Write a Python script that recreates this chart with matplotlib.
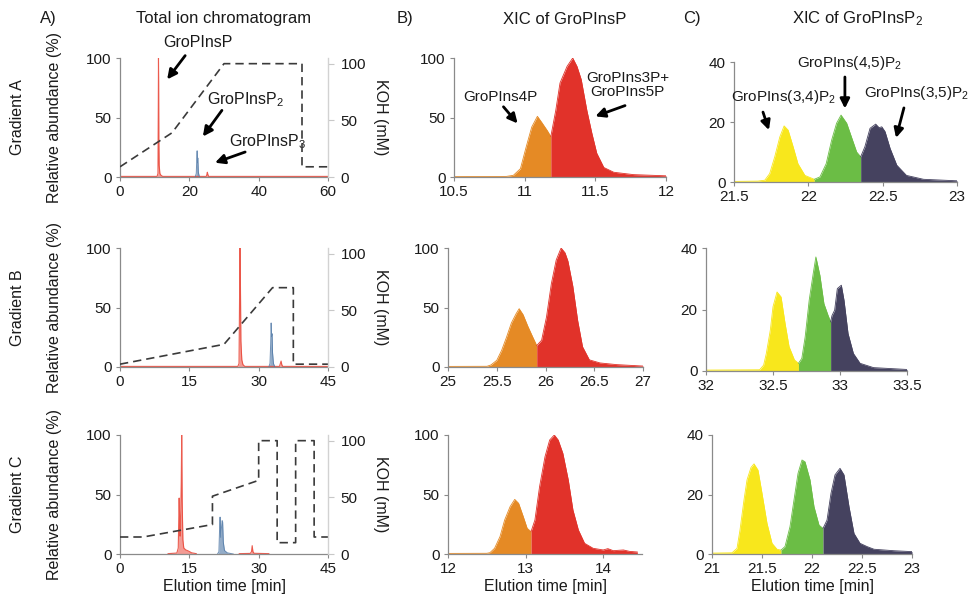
import matplotlib

matplotlib.use("Agg")
import matplotlib.pyplot as plt
import numpy as np
from matplotlib.ticker import FormatStrFormatter

plt.rcParams["font.family"] = ["Liberation Sans", "DejaVu Sans"]
plt.rcParams["mathtext.fontset"] = "custom"
plt.rcParams["mathtext.rm"] = "Liberation Sans"
plt.rcParams["mathtext.it"] = "Liberation Sans:italic"
plt.rcParams["mathtext.bf"] = "Liberation Sans:bold"

# ---- total ion chromatograms (time in min, relative abundance in %) ----
TIC_A_RED_T = [0, 10.7, 10.95, 11.05, 11.1, 11.15, 11.2, 11.3, 11.5, 11.8, 12.3,
               24.9, 25.05, 25.2, 25.35, 25.55, 60]
TIC_A_RED_I = [0.5, 0.5, 3, 60, 100, 80, 32, 10, 3, 1.5, 0.5,
               0.5, 2, 4, 2, 0.5, 0.5]
TIC_A_BLUE_T = [21.7, 22.0, 22.15, 22.25, 22.35, 22.45, 22.6, 22.9]
TIC_A_BLUE_I = [0, 3, 15, 22, 12, 16, 4, 0]

TIC_B_RED_T = [0, 25.5, 25.75, 25.85, 25.95, 26.05, 26.15, 26.35, 26.6, 27.0,
               34.5, 34.7, 34.85, 35.0, 35.2, 45]
TIC_B_RED_I = [0.5, 0.5, 3, 50, 100, 72, 22, 6, 2, 0.5,
               0.5, 3, 5, 2, 0.5, 0.5]
TIC_B_BLUE_T = [32.2, 32.45, 32.6, 32.7, 32.8, 32.9, 33.0, 33.2, 33.5]
TIC_B_BLUE_I = [0, 3, 20, 37, 26, 28, 12, 3, 0]

TIC_C_RED1_T = [10.4, 12.3, 12.6, 12.8, 12.9, 13.0, 13.1, 13.25, 13.35, 13.45,
                13.6, 13.8, 14.2, 14.8, 15.5, 16.5]
TIC_C_RED1_I = [0.3, 0.8, 5, 47, 30, 15, 25, 60, 100, 45,
                12, 5, 3.5, 2.5, 1, 0.3]
TIC_C_RED2_T = [25.8, 28.2, 28.45, 28.6, 28.75, 29.0, 32.2]
TIC_C_RED2_I = [0.3, 0.5, 2, 7, 2, 0.6, 0.3]
TIC_C_BLUE_T = [21.1, 21.4, 21.55, 21.65, 21.8, 21.95, 22.1, 22.2, 22.35, 22.6, 23.2, 24.5]
TIC_C_BLUE_I = [0, 2, 22, 31, 14, 22, 28, 27, 10, 3, 1, 0]

# ---- KOH gradient programs (mM) ----
GRAD_A_T = [0, 15, 30, 52.5, 52.5, 60]
GRAD_A_KOH = [9, 39, 100, 100, 9, 9]
GRAD_B_T = [0, 22.5, 33, 37.5, 37.5, 45]
GRAD_B_KOH = [2.5, 20, 70, 70, 2.5, 2.5]
GRAD_C_T = [0, 5, 20, 20, 30, 30, 34, 34, 38, 38, 42, 42, 45]
GRAD_C_KOH = [15, 15, 26, 51, 65, 100, 100, 10, 10, 100, 100, 15, 15]

# ---- XIC of GroPInsP ----
XIC_P_A_T = [10.5, 10.87, 10.92, 10.97, 11.01, 11.05, 11.09, 11.12, 11.16, 11.185,
             11.22, 11.25, 11.30, 11.34, 11.37, 11.40, 11.44, 11.475, 11.51, 11.56,
             11.63, 11.77, 12.0]
XIC_P_A_I = [0.3, 0.5, 1.4, 7, 25, 42, 51, 46, 39, 34,
             56, 79, 93, 100, 93, 82, 56, 37, 20, 8,
             4, 2, 1]
XIC_P_A_SPLIT = [11.185]

XIC_P_B_T = [25.0, 25.4, 25.44, 25.5, 25.55, 25.6, 25.65, 25.70, 25.73, 25.77,
             25.82, 25.87, 25.91, 25.96, 26.01, 26.06, 26.11, 26.16, 26.2, 26.23,
             26.28, 26.33, 26.38, 26.45, 26.56, 26.73, 27.0]
XIC_P_B_I = [0.5, 0.6, 1.7, 5.6, 14, 25, 37, 45, 49, 44,
             34, 25, 18, 22.5, 42, 70, 90, 100, 96, 89,
             68, 39, 17, 6, 3.4, 2, 0.8]
XIC_P_B_SPLIT = [25.91]

XIC_P_C_T = [12.0, 12.5, 12.54, 12.6, 12.67, 12.73, 12.8, 12.86, 12.91, 12.97,
             13.02, 13.07, 13.12, 13.18, 13.25, 13.31, 13.37, 13.42, 13.48, 13.55,
             13.61, 13.68, 13.76, 13.87, 14.0, 14.06, 14.13, 14.26, 14.34, 14.44]
XIC_P_C_I = [0.5, 0.6, 1.1, 4.8, 14.6, 28.6, 39.8, 45.9, 42.6, 31.4,
             21.6, 18.8, 28.6, 56.6, 81.8, 95.8, 100, 95.8, 84.6, 62.2,
             37, 20.2, 9, 4.8, 3.4, 4.5, 2.8, 3.4, 2.2, 1.7]
XIC_P_C_SPLIT = [13.07]

# ---- XIC of GroPInsP2 ----
XIC_P2_A_T = [21.5, 21.66, 21.707, 21.74, 21.774, 21.808, 21.837, 21.864, 21.898, 21.93,
              21.977, 22.04, 22.078, 22.12, 22.157, 22.19, 22.22, 22.258, 22.29, 22.325,
              22.352, 22.38, 22.415, 22.453, 22.476, 22.494, 22.516, 22.55, 22.595, 22.66,
              22.775, 23.0]
XIC_P2_A_I = [0.2, 0.3, 0.6, 2.8, 8.4, 15, 18.7, 17.3, 11.7, 6.1,
              2.2, 0.9, 1.7, 6.1, 14, 19.6, 22.3, 19.6, 15, 10,
              8.4, 11.7, 17.9, 19.3, 18.1, 18.4, 16.8, 11.2, 5.6, 2.2,
              0.9, 0.4]
XIC_P2_A_SPLIT = [22.04, 22.352]

XIC_P2_B_T = [32.0, 32.4, 32.43, 32.45, 32.48, 32.5, 32.53, 32.56, 32.59, 32.62,
              32.66, 32.69, 32.715, 32.74, 32.77, 32.8, 32.82, 32.85, 32.88, 32.91,
              32.93, 32.94, 32.96, 32.98, 33.01, 33.03, 33.06, 33.1, 33.15, 33.25,
              33.5]
XIC_P2_B_I = [0.3, 0.4, 1.9, 5.7, 13.3, 20.9, 25.7, 24.1, 15.5, 7.9,
              3.6, 2.5, 4.1, 11.1, 23, 31.7, 37.1, 31.1, 21.9, 18.2,
              16, 18, 19.8, 26.8, 27.9, 23, 12.2, 5.7, 2.5, 1.1,
              0.5]
XIC_P2_B_SPLIT = [32.69, 32.93]

XIC_P2_C_T = [21.0, 21.2, 21.25, 21.28, 21.32, 21.35, 21.39, 21.42, 21.46, 21.5,
              21.55, 21.6, 21.65, 21.69, 21.73, 21.78, 21.82, 21.86, 21.9, 21.93,
              21.98, 22.02, 22.07, 22.11, 22.15, 22.19, 22.23, 22.28, 22.32, 22.37,
              22.42, 22.48, 22.55, 22.62, 22.82, 23.0]
XIC_P2_C_I = [0.3, 0.4, 1.9, 8.1, 18.2, 24.9, 29.1, 30.3, 28.2, 20.4,
              10.3, 3.6, 1.6, 1.3, 2.5, 9.2, 18.2, 27.1, 31.6, 31,
              24.9, 15.9, 9.7, 8.6, 11.4, 20.4, 26.6, 28.8, 26.6, 15.9,
              6.9, 3.6, 2.5, 1.6, 1.1, 0.8]
XIC_P2_C_SPLIT = [21.69, 22.11]

GRADIENT_NAMES = ["Gradient A", "Gradient B", "Gradient C"]

RED = "#e1322a"
TIC_RED = "#ea4a3c"
TIC_BLUE = "#4b75a4"
ORANGE = "#e58a25"
YELLOW = "#f8e71c"
GREEN = "#6bbd45"
NAVY = "#45425f"
SPINE = "#8a8a8a"
INK = "#1a1a1a"

W, H = 971, 597


def add_axes(fig, left, top, right, bottom):
    return fig.add_axes([left / W, 1 - bottom / H, (right - left) / W, (bottom - top) / H])


def style(ax):
    for s in ("top", "right"):
        ax.spines[s].set_visible(False)
    for s in ("left", "bottom"):
        ax.spines[s].set_color(SPINE)
        ax.spines[s].set_linewidth(0.9)
    ax.tick_params(colors=SPINE, labelcolor=INK, labelsize=11, length=3, width=0.8, pad=3)
    ax.xaxis.set_major_formatter(FormatStrFormatter("%g"))


def draw_tic(ax, red_traces, blue_t, blue_i, grad_t, grad_koh, xmax, xticks):
    for t, i in red_traces:
        ax.fill_between(t, 0, i, color=TIC_RED, alpha=0.55, lw=0)
        ax.plot(t, i, color=TIC_RED, lw=0.8, alpha=0.9)
    ax.fill_between(blue_t, 0, blue_i, color=TIC_BLUE, alpha=0.6, lw=0)
    ax.plot(blue_t, blue_i, color=TIC_BLUE, lw=0.7, alpha=0.8)
    ax.set_xlim(0, xmax)
    ax.set_ylim(0, 100)
    ax.set_xticks(xticks)
    ax.set_yticks([0, 50, 100])
    style(ax)

    ax2 = ax.twinx()
    ax2.plot(grad_t, grad_koh, color="#3a3a3a", lw=1.2, dashes=(5, 3))
    ax2.set_ylim(0, 105)
    ax2.set_yticks([0, 50, 100])
    for s in ("top", "left", "bottom"):
        ax2.spines[s].set_visible(False)
    ax2.spines["right"].set_color("#d2d2d2")
    ax2.spines["right"].set_linewidth(1.0)
    ax2.tick_params(colors="#c8c8c8", labelcolor=INK, labelsize=11, length=4, width=0.8, pad=5)
    return ax2


def draw_xic(ax, t, i, splits, colors, xlim, xticks, ymax, yticks):
    t = np.asarray(t)
    i = np.asarray(i)
    edges = [t[0]] + list(splits) + [t[-1]]
    for k, color in enumerate(colors):
        mask = (t >= edges[k]) & (t <= edges[k + 1])
        ax.fill_between(t[mask], 0, i[mask], color=color, lw=0)
        ax.plot(t[mask], i[mask], color=color, lw=0.6)
    ax.set_xlim(*xlim)
    ax.set_ylim(0, ymax)
    ax.set_xticks(xticks)
    ax.set_yticks(yticks)
    style(ax)


def arrow(ax, tail, head):
    ax.annotate("", xy=head, xytext=tail,
                arrowprops=dict(arrowstyle="-|>", color="black", lw=2.0,
                                mutation_scale=14, shrinkA=0, shrinkB=0),
                annotation_clip=False)


fig = plt.figure(figsize=(W / 100, H / 100), dpi=100)
fig.patch.set_facecolor("white")

# rows: (top, bottom) in pixels
rows = [(58, 177), (248, 367), (435, 554)]

# --- column A: total ion chromatograms ---
tic_axes = []
tic_specs = [
    ([(TIC_A_RED_T, TIC_A_RED_I)], TIC_A_BLUE_T, TIC_A_BLUE_I, GRAD_A_T, GRAD_A_KOH, 60, [0, 20, 40, 60]),
    ([(TIC_B_RED_T, TIC_B_RED_I)], TIC_B_BLUE_T, TIC_B_BLUE_I, GRAD_B_T, GRAD_B_KOH, 45, [0, 15, 30, 45]),
    ([(TIC_C_RED1_T, TIC_C_RED1_I), (TIC_C_RED2_T, TIC_C_RED2_I)], TIC_C_BLUE_T, TIC_C_BLUE_I,
     GRAD_C_T, GRAD_C_KOH, 45, [0, 15, 30, 45]),
]
for (top, bottom), spec in zip(rows, tic_specs):
    ax = add_axes(fig, 120, top, 328, bottom)
    draw_tic(ax, *spec)
    tic_axes.append(ax)
    yc = 1 - (top + bottom) / 2 / H
    fig.text(55 / W, yc, "Relative abundance (%)", rotation=90, ha="center", va="center",
             fontsize=11.5, color=INK)
    fig.text(380 / W, yc, "KOH (mM)", rotation=270, ha="center", va="center",
             fontsize=11.5, color=INK)
for (top, bottom), name in zip(rows, GRADIENT_NAMES):
    fig.text(17 / W, 1 - (top + bottom) / 2 / H, name, rotation=90, ha="center", va="center",
             fontsize=11.5, color=INK)

# --- column B: XIC of GroPInsP ---
ax_b1 = add_axes(fig, 454, 58, 666, 177)
draw_xic(ax_b1, XIC_P_A_T, XIC_P_A_I, XIC_P_A_SPLIT, [ORANGE, RED],
         (10.5, 12), [10.5, 11, 11.5, 12], 100, [0, 50, 100])
ax_b2 = add_axes(fig, 448, 248, 643, 367)
draw_xic(ax_b2, XIC_P_B_T, XIC_P_B_I, XIC_P_B_SPLIT, [ORANGE, RED],
         (25, 27), [25, 25.5, 26, 26.5, 27], 100, [0, 50, 100])
ax_b3 = add_axes(fig, 448, 435, 642, 554)
draw_xic(ax_b3, XIC_P_C_T, XIC_P_C_I, XIC_P_C_SPLIT, [ORANGE, RED],
         (12, 14.5), [12, 13, 14], 100, [0, 50, 100])

# --- column C: XIC of GroPInsP2 ---
ax_c1 = add_axes(fig, 734, 62, 957, 182)
draw_xic(ax_c1, XIC_P2_A_T, XIC_P2_A_I, XIC_P2_A_SPLIT, [YELLOW, GREEN, NAVY],
         (21.5, 23), [21.5, 22, 22.5, 23], 40, [0, 20, 40])
ax_c2 = add_axes(fig, 706, 248, 907, 371)
draw_xic(ax_c2, XIC_P2_B_T, XIC_P2_B_I, XIC_P2_B_SPLIT, [YELLOW, GREEN, NAVY],
         (32, 33.5), [32, 32.5, 33, 33.5], 40, [0, 20, 40])
ax_c3 = add_axes(fig, 712, 435, 912, 554)
draw_xic(ax_c3, XIC_P2_C_T, XIC_P2_C_I, XIC_P2_C_SPLIT, [YELLOW, GREEN, NAVY],
         (21, 23), [21, 21.5, 22, 22.5, 23], 40, [0, 20, 40])

# --- peak annotations ---
ax_a1 = tic_axes[0]
ann = dict(fontsize=11.5, color=INK, ha="center", va="center", clip_on=False)
ax_a1.text(22.5, 113, "GroPInsP", **ann)
arrow(ax_a1, (18.8, 102), (13.6, 82))
ax_a1.text(36.1, 65, "GroPInsP$_2$", **ann)
arrow(ax_a1, (29.4, 56), (23.9, 34))
ax_a1.text(42.7, 29.5, "GroPInsP$_3$", **ann)
arrow(ax_a1, (36.1, 21), (27.4, 12))

ann_c = dict(ann, fontsize=11)
ax_b1.text(10.83, 67, "GroPIns4P", **ann_c)
arrow(ax_b1, (10.85, 59), (10.95, 45))
ax_b1.text(11.73, 77, "GroPIns3P+\nGroPIns5P", linespacing=1.0, **ann_c)
arrow(ax_b1, (11.71, 60), (11.50, 51))

ax_c1.text(21.83, 28.3, "GroPIns(3,4)P$_2$", **ann_c)
arrow(ax_c1, (21.695, 23.3), (21.735, 17.3))
ax_c1.text(22.28, 39.7, "GroPIns(4,5)P$_2$", **ann_c)
arrow(ax_c1, (22.246, 35), (22.246, 24.5))
ax_c1.text(22.73, 29.7, "GroPIns(3,5)P$_2$", **ann_c)
arrow(ax_c1, (22.643, 24.7), (22.59, 14.7))

# --- column headings and axis labels ---
head = dict(fontsize=12, color=INK, va="center")
fig.text(40 / W, 1 - 18 / H, "A)", **head)
fig.text(224 / W, 1 - 18 / H, "Total ion chromatogram", ha="center", **head)
fig.text(397 / W, 1 - 19 / H, "B)", **head)
fig.text(565 / W, 1 - 19 / H, "XIC of GroPInsP", ha="center", **head)
fig.text(683 / W, 1 - 19 / H, "C)", **head)
fig.text(857 / W, 1 - 19 / H, "XIC of GroPInsP$_2$", ha="center", **head)

for xc in (224, 545, 812):
    fig.text(xc / W, 1 - 586 / H, "Elution time [min]", fontsize=11.5, color=INK,
             ha="center", va="center")

fig.savefig("out.png", dpi=100, facecolor="white")
